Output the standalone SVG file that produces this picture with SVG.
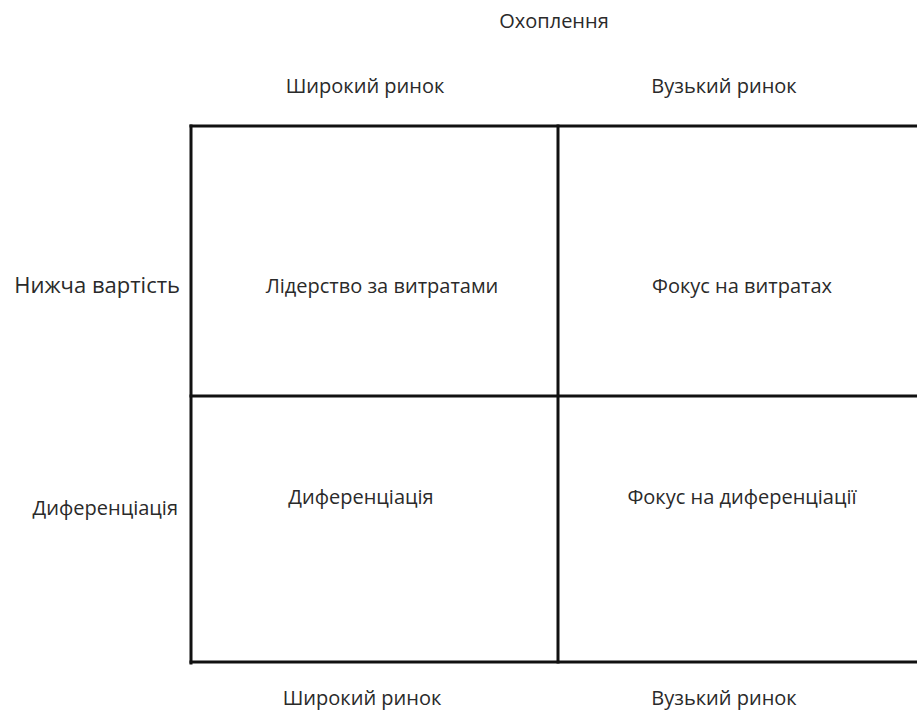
<svg xmlns="http://www.w3.org/2000/svg" width="917" height="713" viewBox="0 0 917 713">
<style>
.t{font-family:"Open Sans","Noto Sans",sans-serif;font-size:20px;fill:#2a2a2a;text-anchor:middle}
.l{font-family:"Open Sans","Noto Sans",sans-serif;font-size:20px;fill:#2a2a2a;text-anchor:end}
.g line{stroke:#111;stroke-width:3;stroke-linecap:square}
</style>
<rect width="917" height="713" fill="#fff"/>
<g id="connectors" class="g">
<line x1="191" y1="126" x2="917" y2="126"/>
<line x1="191" y1="126" x2="191" y2="663"/>
<line x1="558" y1="126" x2="558" y2="662"/>
<line x1="191" y1="396" x2="917" y2="396"/>
<line x1="191" y1="662" x2="917" y2="662"/>
</g>
<g id="title"><text class="t" x="554" y="28">Охоплення</text></g>
<g id="top-broad"><text class="t" x="365" y="93">Широкий ринок</text></g>
<g id="top-narrow"><text class="t" x="724" y="93">Вузький ринок</text></g>
<g id="row-cost"><text class="l" x="180" y="293" style="font-size:22px">Нижча вартість</text></g>
<g id="row-diff"><text class="l" x="178" y="515">Диференціація</text></g>
<g id="cell-cost-leader"><text class="t" x="382" y="293">Лідерство за витратами</text></g>
<g id="cell-cost-focus"><text class="t" x="742" y="293">Фокус на витратах</text></g>
<g id="cell-diff"><text class="t" x="361" y="504">Диференціація</text></g>
<g id="cell-diff-focus"><text class="t" x="742" y="504">Фокус на диференціації</text></g>
<g id="bottom-broad"><text class="t" x="362" y="705">Широкий ринок</text></g>
<g id="bottom-narrow"><text class="t" x="724" y="705">Вузький ринок</text></g>
</svg>
